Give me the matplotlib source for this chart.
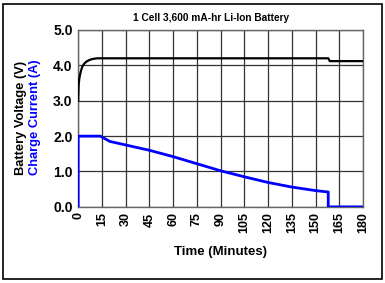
import matplotlib
matplotlib.use('Agg')
import matplotlib.pyplot as plt
from matplotlib.patches import Rectangle

plt.rcParams['font.family'] = ['Liberation Sans', 'DejaVu Sans']

# Voltage curve (minutes, volts)
volt_t = [0, 0.3, 0.8, 1.5, 2.5, 3.5, 5, 7, 9, 12, 158, 159, 180]
volt_v = [3.0, 3.45, 3.65, 3.8, 3.95, 4.03, 4.1, 4.15, 4.18, 4.2, 4.2, 4.12, 4.12]

# Charge current curve (minutes, amps)
curr_t = [0, 0, 14, 20, 30, 45, 60, 75, 90, 105, 120, 135, 150, 158, 158, 180]
curr_a = [0, 2.0, 2.0, 1.85, 1.75, 1.6, 1.42, 1.22, 1.02, 0.85, 0.69, 0.56, 0.46, 0.42, 0.0, 0.0]

x_ticks = list(range(0, 181, 15))
y_ticks = [0, 1, 2, 3, 4, 5]

fig = plt.figure(figsize=(3.85, 2.83), dpi=100)
ax = fig.add_axes([0.203, 0.269, 0.740, 0.625])

ax.plot(volt_t, volt_v, color='black', linewidth=1.6, zorder=3)
ax.plot(curr_t, curr_a, color='#0000ff', linewidth=2.0, zorder=3)

ax.set_xlim(0, 180)
ax.set_ylim(0, 5)
ax.set_xticks(x_ticks)
ax.set_yticks(y_ticks)
ax.set_xticklabels([str(t) for t in x_ticks], rotation=90, fontsize=9, fontweight='bold')
ax.set_yticklabels([f'{v:.1f}' for v in y_ticks], fontsize=10, fontweight='bold')
ax.tick_params(length=0, pad=4)
ax.grid(True, color='#333333', linewidth=0.9)
for s in ax.spines.values():
    s.set_linewidth(1.0)
    s.set_color('#666666')

ax.set_xlabel('Time (Minutes)', fontsize=9.5, fontweight='bold', labelpad=9)
fig.text(0.548, 0.936, '1 Cell 3,600 mA-hr Li-Ion Battery', ha='center', va='center',
         fontsize=7.3, fontweight='bold')

fig.text(0.054, 0.585, 'Battery Voltage (V)', rotation=90, ha='center', va='center',
         fontsize=9.3, fontweight='bold', color='black')
fig.text(0.092, 0.585, 'Charge Current (A)', rotation=90, ha='center', va='center',
         fontsize=9.3, fontweight='bold', color='#0000ff')

fig.patches.append(Rectangle((0.008, 0.015), 0.984, 0.972, transform=fig.transFigure,
                             fill=False, edgecolor='black', linewidth=1.2))

fig.savefig('out.png', dpi=100)
